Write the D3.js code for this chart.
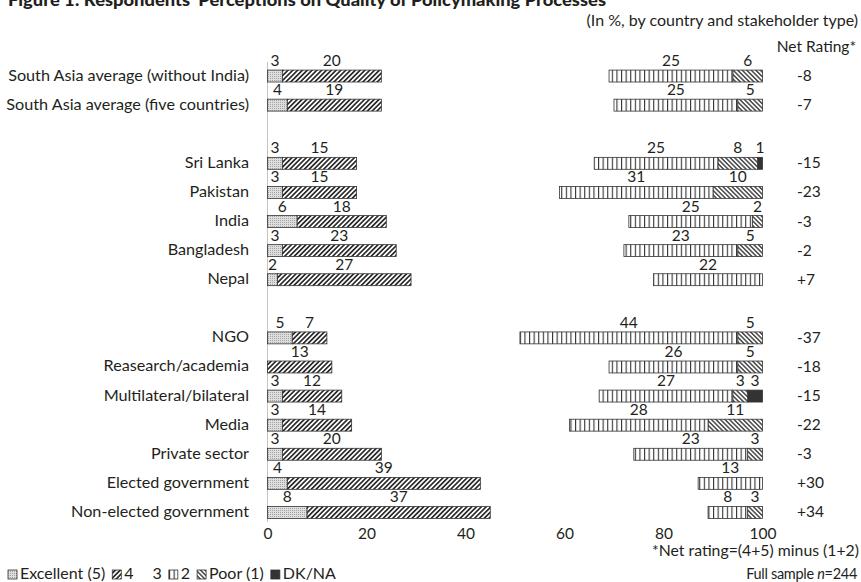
<!DOCTYPE html>
<html>
<head>
<meta charset="utf-8">
<script src="https://cdn.jsdelivr.net/npm/d3@7/dist/d3.min.js"></script>
<style>
  html, body { margin: 0; padding: 0; background: #fff; }
  svg { display: block; font-family: Lato, "Open Sans", sans-serif; }
  text { fill: #231f20; }
</style>
</head>
<body>
<svg id="chart" width="861" height="582"></svg>
<script>
// Row groups (a blank row separates each group)
const regionRows = ["South Asia average (without India)", "South Asia average (five countries)"];
const countryRows = ["Sri Lanka", "Pakistan", "India", "Bangladesh", "Nepal"];
const stakeholderRows = ["NGO", "Reasearch/academia", "Multilateral/bilateral", "Media",
  "Private sector", "Elected government", "Non-elected government"];

const categories = [...regionRows, ...countryRows, ...stakeholderRows];

// Shares of respondents (%) per rating
const excellent = [3, 4, 3, 3, 6, 3, 2, 5, 0, 3, 3, 3, 4, 8];
const four      = [20, 19, 15, 15, 18, 23, 27, 7, 13, 12, 14, 20, 39, 37];
const two       = [25, 25, 25, 31, 25, 23, 22, 44, 26, 27, 28, 23, 13, 8];
const poor      = [6, 5, 8, 10, 2, 5, 0, 5, 5, 3, 11, 3, 0, 3];
const dkna      = [0, 0, 1, 0, 0, 0, 0, 0, 0, 3, 0, 0, 0, 0];
const netRating = ["-8", "-7", "-15", "-23", "-3", "-2", "+7", "-37", "-18", "-15", "-22", "-3", "+30", "+34"];

const xTicks = [0, 20, 40, 60, 80, 100];
const legendItems = [
  { key: "excellent", label: "Excellent (5)" },
  { key: "four", label: "4" },
  { key: "three", label: "3" },
  { key: "two", label: "2" },
  { key: "poor", label: "Poor (1)" },
  { key: "dkna", label: "DK/NA" }
];

const svg = d3.select("#chart");
const ink = "#231f20";

// ---- fill patterns ----
const defs = svg.append("defs");
function hatch(id, angle, size, width) {
  const p = defs.append("pattern").attr("id", id)
    .attr("patternUnits", "userSpaceOnUse")
    .attr("width", size).attr("height", size)
    .attr("patternTransform", `rotate(${angle})`);
  p.append("rect").attr("width", size).attr("height", size).attr("fill", "#fff");
  p.append("line").attr("x1", size / 2).attr("x2", size / 2).attr("y1", 0).attr("y2", size)
    .attr("stroke", "#2b2b2b").attr("stroke-width", width);
}
hatch("pat-four", 45, 3.4, 1.7);
hatch("pat-poor", -45, 3.2, 1.3);
{
  const p = defs.append("pattern").attr("id", "pat-two")
    .attr("patternUnits", "userSpaceOnUse").attr("width", 4.6).attr("height", 4);
  p.append("rect").attr("width", 4.6).attr("height", 4).attr("fill", "#fff");
  p.append("rect").attr("x", 0).attr("width", 1.1).attr("height", 4).attr("fill", "#333");
}
{
  const p = defs.append("pattern").attr("id", "pat-excellent")
    .attr("patternUnits", "userSpaceOnUse").attr("width", 2).attr("height", 2);
  p.append("rect").attr("width", 2).attr("height", 2).attr("fill", "#dedede");
  p.append("rect").attr("width", 1).attr("height", 1).attr("fill", "#a4a4a4");
}
const fills = {
  excellent: "url(#pat-excellent)",
  four: "url(#pat-four)",
  two: "url(#pat-two)",
  poor: "url(#pat-poor)",
  dkna: "#333"
};

// ---- scales ----
const slots = [...regionRows, "gap-1", ...countryRows, "gap-2", ...stakeholderRows];
const y = d3.scaleBand().domain(slots).range([61.5, 527])
  .paddingInner(0.59).paddingOuter(0.295);
const x = d3.scaleLinear().domain([0, 100]).range([267.5, 762.5]);

// ---- title block ----
svg.append("text").attr("x", 8).attr("y", 6)
  .attr("font-size", 17).attr("font-weight", 900)
  .attr("textLength", 598).attr("lengthAdjust", "spacingAndGlyphs")
  .text("Figure 1: Respondents' Perceptions on Quality of Policymaking Processes");
svg.append("text").attr("x", 858).attr("y", 26).attr("text-anchor", "end")
  .attr("font-size", 16).text("(In %, by country and stakeholder type)");
svg.append("text").attr("x", 856).attr("y", 52).attr("text-anchor", "end")
  .attr("font-size", 15.5).text("Net Rating*");

// ---- axis line and ticks ----
svg.append("line").attr("x1", x(0)).attr("x2", x(0))
  .attr("y1", 62).attr("y2", 522).attr("stroke", "#c4c4c4").attr("stroke-width", 1);

const axis = d3.axisBottom(x).tickValues(xTicks).tickSize(0).tickPadding(0);
const gAxis = svg.append("g").attr("transform", "translate(0,528)").call(axis);
gAxis.select(".domain").remove();
gAxis.selectAll("text").attr("font-size", 15.5).attr("font-family", "Lato, sans-serif")
  .attr("fill", ink).attr("dy", "0.7em");

// ---- rows ----
const rows = categories.map((c, i) => ({
  name: c, excellent: excellent[i], four: four[i], two: two[i],
  poor: poor[i], dkna: dkna[i], net: netRating[i]
}));

const bh = y.bandwidth();
const gRows = svg.append("g");

rows.forEach(r => {
  const top = y(r.name);
  const g = gRows.append("g");

  g.append("text").attr("x", 249).attr("y", top + bh / 2 + 4.5)
    .attr("text-anchor", "end").attr("font-size", 16.2).text(r.name);

  // positive ratings stack rightwards from 0
  const left = [{ key: "excellent", v: r.excellent }, { key: "four", v: r.four }];
  let acc = 0;
  const segs = [];
  left.forEach(s => { segs.push({ ...s, x0: acc, x1: acc + s.v }); acc += s.v; });

  // negative ratings stack leftwards from 100
  const right = [{ key: "dkna", v: r.dkna }, { key: "poor", v: r.poor }, { key: "two", v: r.two }];
  acc = 100;
  right.forEach(s => { segs.push({ ...s, x0: acc - s.v, x1: acc }); acc -= s.v; });

  segs.filter(s => s.v > 0).forEach(s => {
    g.append("rect")
      .attr("x", x(s.x0)).attr("y", top)
      .attr("width", x(s.x1) - x(s.x0)).attr("height", bh)
      .attr("fill", fills[s.key]).attr("stroke", "#333").attr("stroke-width", 0.8);
    g.append("text")
      .attr("x", (x(s.x0) + x(s.x1)) / 2).attr("y", top - 4)
      .attr("text-anchor", "middle").attr("font-size", 15.5).text(s.v);
  });

  g.append("text").attr("x", 797).attr("y", top + bh / 2 + 5)
    .attr("font-size", 15.5).text(r.net);
});

// ---- notes ----
svg.append("text").attr("x", 859).attr("y", 556).attr("text-anchor", "end")
  .attr("font-size", 15.8).text("*Net rating=(4+5) minus (1+2)");
const fs = svg.append("text").attr("x", 857).attr("y", 579).attr("text-anchor", "end")
  .attr("font-size", 14.5).attr("letter-spacing", -0.3);
fs.append("tspan").text("Full sample ");
fs.append("tspan").attr("font-style", "italic").text("n");
fs.append("tspan").text("=244");

// ---- legend ----
const lg = svg.append("g").attr("transform", "translate(8,579)");
let lx = 0;
legendItems.forEach(it => {
  if (it.key !== "three") {
    lg.append("rect").attr("x", lx).attr("y", -9).attr("width", 9).attr("height", 9)
      .attr("fill", fills[it.key]).attr("stroke", "#333").attr("stroke-width", 0.8);
  }
  const t = lg.append("text").attr("x", lx + 12).attr("y", 0).attr("font-size", 16).text(it.label);
  lx += 12 + t.node().getComputedTextLength() + 7;
});
</script>
</body>
</html>
